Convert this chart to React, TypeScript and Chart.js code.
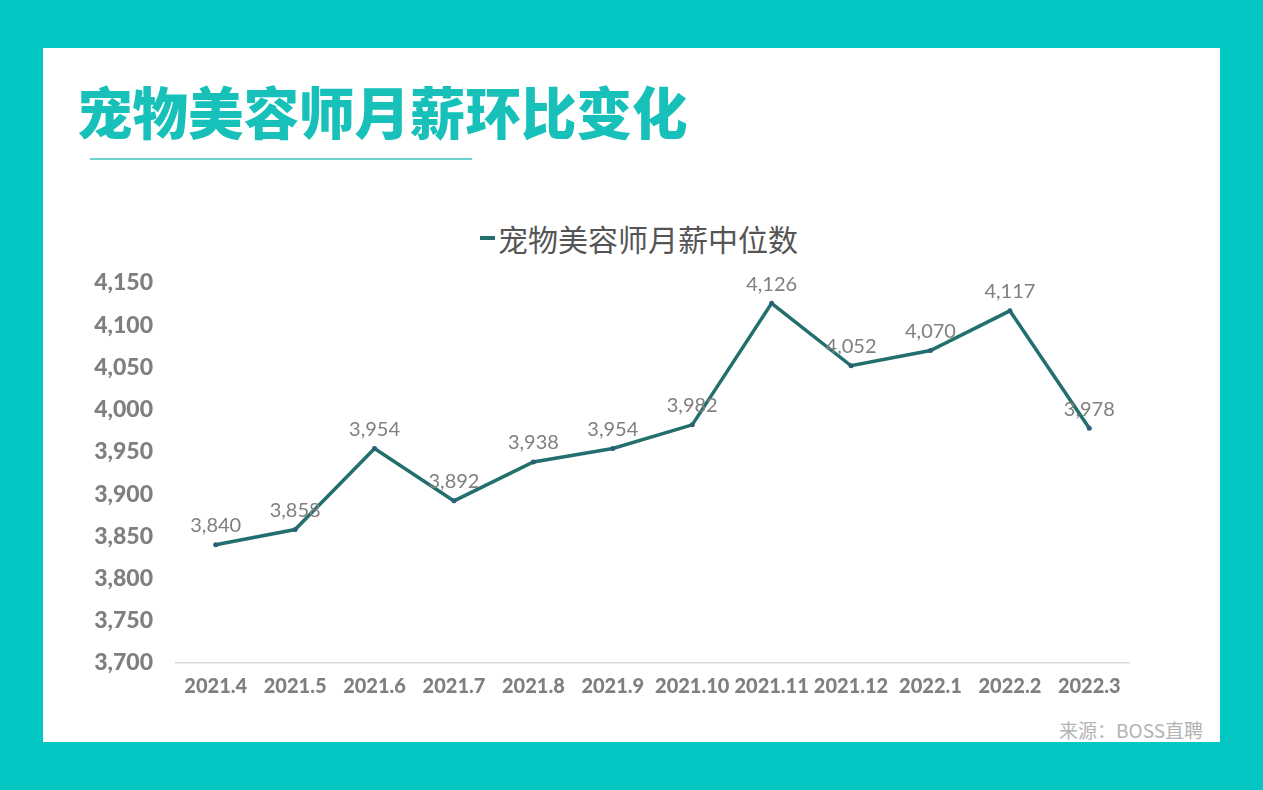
import { useEffect, useRef } from "react";
import { Chart, registerables } from "chart.js";

Chart.register(...registerables);

const months = [
  "2021.4", "2021.5", "2021.6", "2021.7", "2021.8", "2021.9",
  "2021.10", "2021.11", "2021.12", "2022.1", "2022.2", "2022.3"
];
const medianSalary = [3840, 3858, 3954, 3892, 3938, 3954, 3982, 4126, 4052, 4070, 4117, 3978];
const seriesName = "宠物美容师月薪中位数";
const yMin = 3700;
const yMax = 4150;
const yStep = 50;

const TEAL_BG = "#02C6C1";
const LINE = "#226F6E";
const GREY = "#7F7F7F";

const fmt = (v: number) => v.toLocaleString("en-US");

const valueLabels = {
  id: "valueLabels",
  afterDatasetsDraw(chart: Chart) {
    const { ctx } = chart;
    const meta = chart.getDatasetMeta(0);
    const data = chart.data.datasets[0].data as number[];
    ctx.save();
    ctx.font = "20px Lato";
    ctx.fillStyle = GREY;
    ctx.textAlign = "center";
    ctx.textBaseline = "middle";
    meta.data.forEach((pt, i) => {
      ctx.fillText(fmt(data[i]), pt.x, pt.y - 19);
    });
    ctx.restore();
  }
};

function SalaryChart() {
  const canvasRef = useRef<HTMLCanvasElement | null>(null);

  useEffect(() => {
    if (!canvasRef.current) return;
    const chart = new Chart(canvasRef.current, {
      type: "line",
      data: {
        labels: months,
        datasets: [
          {
            label: seriesName,
            data: medianSalary,
            borderColor: LINE,
            borderWidth: 3.5,
            tension: 0,
            pointRadius: 2.5,
            pointBackgroundColor: "#2B5F78",
            pointBorderWidth: 0
          }
        ]
      },
      options: {
        responsive: false,
        animation: false,
        layout: { padding: { top: 53, left: 0, right: 0, bottom: 0 } },
        plugins: {
          legend: { display: false },
          tooltip: { enabled: false }
        },
        scales: {
          x: {
            offset: true,
            grid: { display: false, offset: true },
            border: { color: "#D9D9D9", width: 1.5 },
            ticks: {
              color: GREY,
              font: { family: "Lato", size: 20, weight: "900" },
              padding: 4,
              maxRotation: 0,
              autoSkip: false
            },
            afterFit: (scale: any) => {
              scale.height = 40;
            }
          },
          y: {
            min: yMin,
            max: yMax,
            grid: { display: false, drawTicks: false },
            border: { display: false },
            ticks: {
              stepSize: yStep,
              color: GREY,
              font: { family: "Lato", size: 23, weight: "900" },
              padding: 23,
              callback: (v: any) => fmt(Number(v))
            },
            afterFit: (scale: any) => {
              scale.width = 116;
            }
          }
        }
      },
      plugins: [valueLabels]
    });
    return () => chart.destroy();
  }, []);

  return (
    <canvas
      ref={canvasRef}
      width={1073}
      height={473}
      style={{ position: "absolute", left: 17, top: 182, width: 1073, height: 473 }}
    />
  );
}

export default function App() {
  return (
    <div style={{ position: "fixed", inset: 0, background: TEAL_BG, overflow: "hidden" }}>
      <div
        style={{
          position: "absolute",
          left: 43,
          top: 48,
          width: 1177,
          height: 694,
          background: "#FFFFFF"
        }}
      >
        <div
          style={{
            position: "absolute",
            left: 34,
            top: 35,
            fontFamily: "'Noto Sans CJK SC'",
            fontWeight: 900,
            fontSize: 55.5,
            lineHeight: "55px",
            color: "#17C1B9",
            whiteSpace: "nowrap"
          }}
        >
          宠物美容师月薪环比变化
        </div>
        <div
          style={{
            position: "absolute",
            left: 47,
            top: 110,
            width: 382,
            height: 1.5,
            background: "#6ED3CF"
          }}
        />
        <div
          style={{
            position: "absolute",
            left: 437,
            top: 175,
            height: 30,
            display: "flex",
            alignItems: "center",
            whiteSpace: "nowrap"
          }}
        >
          <span style={{ display: "inline-block", width: 15, height: 3.5, background: LINE, marginRight: 3 }} />
          <span
            style={{
              fontFamily: "'Noto Sans CJK SC'",
              fontSize: 30,
              lineHeight: "30px",
              color: "#555555"
            }}
          >
            {seriesName}
          </span>
        </div>
        <SalaryChart />
        <div
          style={{
            position: "absolute",
            right: 17,
            top: 672,
            fontFamily: "'Noto Sans CJK SC'",
            fontSize: 19,
            lineHeight: "19px",
            color: "#B3B3B3",
            whiteSpace: "nowrap"
          }}
        >
          来源：BOSS直聘
        </div>
      </div>
    </div>
  );
}
